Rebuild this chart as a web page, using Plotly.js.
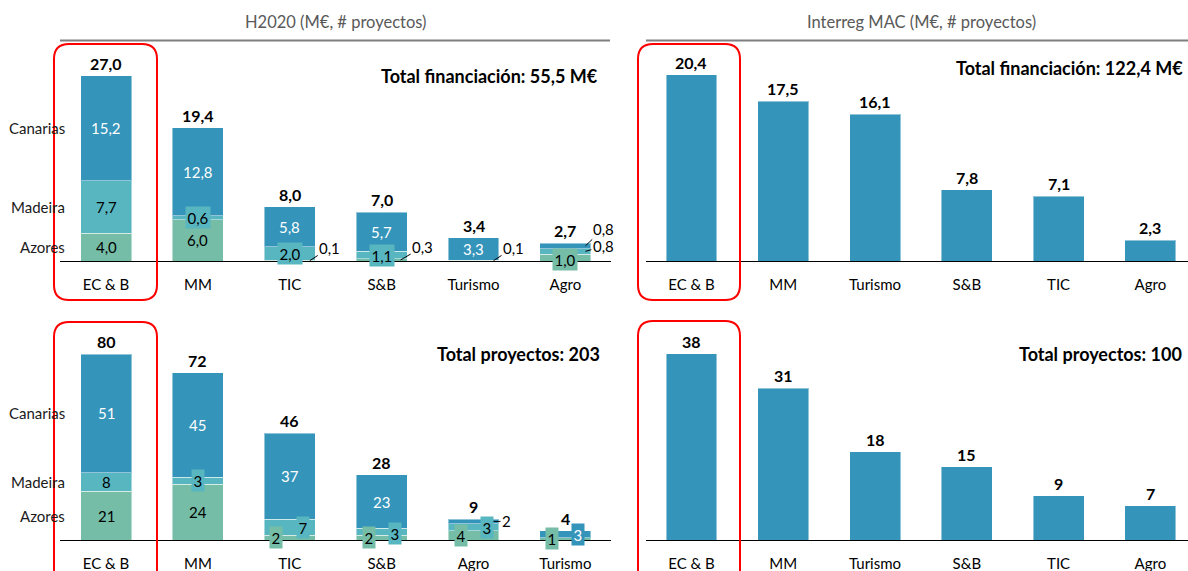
<!DOCTYPE html>
<html><head><meta charset="utf-8">
<script src="https://cdn.plot.ly/plotly-3.0.1.min.js"></script>
<style>html,body{margin:0;padding:0;background:#fff;} #chart{width:1188px;height:571px;}</style>
</head><body><div id="chart"></div>
<script>
// ---------------- DATA ----------------
const regions = ['Azores', 'Madeira', 'Canarias'];

// H2020 – financiación (M€)
const h2020FundCats     = ['EC & B', 'MM', 'TIC', 'S&B', 'Turismo', 'Agro'];
const h2020FundAzores   = [4.0, 6.0, 0.1, 0.3, 0.1, 1.0];
const h2020FundMadeira  = [7.7, 0.6, 2.0, 1.1, 0.0, 0.8];
const h2020FundCanarias = [15.2, 12.8, 5.8, 5.7, 3.3, 0.8];
const h2020FundTotals   = [27.0, 19.4, 8.0, 7.0, 3.4, 2.7];

// H2020 – proyectos (#)
const h2020ProjCats     = ['EC & B', 'MM', 'TIC', 'S&B', 'Agro', 'Turismo'];
const h2020ProjAzores   = [21, 24, 2, 2, 4, 1];
const h2020ProjMadeira  = [8, 3, 7, 3, 3, 0];
const h2020ProjCanarias = [51, 45, 37, 23, 2, 3];
const h2020ProjTotals   = [80, 72, 46, 28, 9, 4];

// Interreg MAC
const macFundCats   = ['EC & B', 'MM', 'Turismo', 'S&B', 'TIC', 'Agro'];
const macFundValues = [20.4, 17.5, 16.1, 7.8, 7.1, 2.3];
const macProjCats   = ['EC & B', 'MM', 'Turismo', 'S&B', 'TIC', 'Agro'];
const macProjValues = [38, 31, 18, 15, 9, 7];

const titleH2020 = 'H2020 (M€, # proyectos)';
const titleMAC   = 'Interreg MAC (M€, # proyectos)';
const totalH2020Fund = 'Total financiación: 55,5 M€';
const totalH2020Proj = 'Total proyectos: 203';
const totalMACFund   = 'Total financiación: 122,4 M€';
const totalMACProj   = 'Total proyectos: 100';

// ---------------- STYLE ----------------
const W = 1188, H = 571;
const px = x => x / W;
const py = y => 1 - y / H;
const FONT = 'Lato, "Open Sans", sans-serif';
const COL = {Azores: '#75bda7', Madeira: '#58b6c0', Canarias: '#3494ba'};
const TXT = {Azores: '#000000', Madeira: '#000000', Canarias: '#ffffff'};
const fmt1 = v => v.toFixed(1).replace('.', ',');
const fmt0 = v => String(Math.round(v));

// label placement tweaks (pixels)
const fundStyles = {
  'MM|Madeira': {box: true},
  'TIC|Azores': {leader: [20, 20, -13]},
  'TIC|Madeira': {box: true},
  'S&B|Azores': {leader: [19, 22, -13]},
  'S&B|Madeira': {box: true},
  'Turismo|Azores': {leader: [20, 20, -13]},
  'Agro|Azores': {box: true, dy: -1.5},
  'Agro|Madeira': {leader: [20, 18, -5]},
  'Agro|Canarias': {leader: [20, 18, -17]}
};
const projStyles = {
  'MM|Madeira': {box: true},
  'TIC|Azores': {box: true, dx: -14},
  'TIC|Madeira': {box: true, dx: 13},
  'S&B|Azores': {box: true, dx: -13},
  'S&B|Madeira': {box: true, dx: 13, dy: -2},
  'Agro|Azores': {box: true, dx: -13},
  'Agro|Madeira': {box: true, dx: 13},
  'Agro|Canarias': {leader: [20, 13, 0]},
  'Turismo|Azores': {box: true, dx: -13},
  'Turismo|Canarias': {box: true, dx: 13}
};

const traces = [];
const ann = [];

function stacked(cats, series, totals, fmt, xa, ya, styles) {
  const base = cats.map(() => 0);
  const mids0 = {};
  regions.forEach(r => {
    traces.push({
      type: 'bar', x: cats, y: series[r], xaxis: xa, yaxis: ya,
      marker: {color: COL[r], line: {color: 'rgba(255,255,255,0.45)', width: 1}},
      hoverinfo: 'skip', showlegend: false
    });
    cats.forEach((c, i) => {
      const v = series[r][i];
      const mid = base[i] + v / 2;
      base[i] += v;
      if (i === 0) mids0[r] = mid;
      if (v <= 0) return;
      const st = styles[c + '|' + r] || {};
      const a = {xref: xa, yref: ya, x: c, y: mid, text: fmt(v),
        font: {family: FONT, size: 15, color: TXT[r]}, showarrow: false};
      if (st.leader) {
        a.xshift = st.leader[0]; a.showarrow = true; a.arrowhead = 0;
        a.arrowwidth = 1; a.arrowcolor = '#000'; a.ax = st.leader[1]; a.ay = st.leader[2];
        a.font.color = '#000'; a.standoff = 0;
      }
      if (st.box) { a.bgcolor = COL[r]; a.borderpad = 1.5; }
      if (st.dx) a.xshift = st.dx;
      if (st.dy) a.yshift = st.dy;
      ann.push(a);
    });
  });
  cats.forEach((c, i) => {
    ann.push({xref: xa, yref: ya, x: c, y: base[i], yanchor: 'bottom', yshift: 1,
      text: '<b>' + fmt(totals[i]) + '</b>', showarrow: false,
      font: {family: FONT, size: 16, color: '#000'}});
  });
  regions.forEach(r => {
    ann.push({xref: 'paper', yref: ya, x: px(67), xanchor: 'right', y: mids0[r],
      text: r, showarrow: false, font: {family: FONT, size: 15, color: '#1a1a1a'}});
  });
}

function simple(cats, vals, fmt, xa, ya) {
  traces.push({
    type: 'bar', x: cats, y: vals, xaxis: xa, yaxis: ya,
    marker: {color: COL.Canarias, line: {color: 'rgba(255,255,255,0.45)', width: 1}},
    hoverinfo: 'skip', showlegend: false
  });
  cats.forEach((c, i) => {
    ann.push({xref: xa, yref: ya, x: c, y: vals[i], yanchor: 'bottom', yshift: 1,
      text: '<b>' + fmt(vals[i]) + '</b>', showarrow: false,
      font: {family: FONT, size: 16, color: '#000'}});
  });
}

stacked(h2020FundCats, {Azores: h2020FundAzores, Madeira: h2020FundMadeira, Canarias: h2020FundCanarias},
  h2020FundTotals, fmt1, 'x', 'y', fundStyles);
simple(macFundCats, macFundValues, fmt1, 'x2', 'y2');
stacked(h2020ProjCats, {Azores: h2020ProjAzores, Madeira: h2020ProjMadeira, Canarias: h2020ProjCanarias},
  h2020ProjTotals, fmt0, 'x3', 'y3', projStyles);
simple(macProjCats, macProjValues, fmt0, 'x4', 'y4');

// titles and totals
const bigFont = {family: FONT, size: 18, color: '#000'};
const titleFont = {family: FONT, size: 16.5, color: '#595959'};
function paperText(x, y, xanchor, text, font) {
  ann.push({xref: 'paper', yref: 'paper', x: px(x), y: py(y), xanchor: xanchor, yanchor: 'middle',
    text: text, showarrow: false, font: font});
}
paperText(335, 22, 'center', titleH2020, titleFont);
paperText(921, 22, 'center', titleMAC, titleFont);
paperText(600, 76, 'right', '<b>' + totalH2020Fund + '</b>', bigFont);
paperText(602, 354, 'right', '<b>' + totalH2020Proj + '</b>', bigFont);
paperText(1185, 68, 'right', '<b>' + totalMACFund + '</b>', bigFont);
paperText(1184, 354, 'right', '<b>' + totalMACProj + '</b>', bigFont);

// shapes: header lines and red highlight boxes
function roundRect(x0, y0, x1, y1, r) {
  const X = v => px(v).toFixed(5), Y = v => py(v).toFixed(5);
  return 'M' + X(x0 + r) + ',' + Y(y0) + ' L' + X(x1 - r) + ',' + Y(y0) +
    ' Q' + X(x1) + ',' + Y(y0) + ' ' + X(x1) + ',' + Y(y0 + r) +
    ' L' + X(x1) + ',' + Y(y1 - r) +
    ' Q' + X(x1) + ',' + Y(y1) + ' ' + X(x1 - r) + ',' + Y(y1) +
    ' L' + X(x0 + r) + ',' + Y(y1) +
    ' Q' + X(x0) + ',' + Y(y1) + ' ' + X(x0) + ',' + Y(y1 - r) +
    ' L' + X(x0) + ',' + Y(y0 + r) +
    ' Q' + X(x0) + ',' + Y(y0) + ' ' + X(x0 + r) + ',' + Y(y0) + ' Z';
}
const redLine = {color: '#ff0000', width: 2};
const shapes = [
  {type: 'line', xref: 'paper', yref: 'paper', x0: px(60), x1: px(610), y0: py(40.5), y1: py(40.5), line: {color: '#7f7f7f', width: 2}},
  {type: 'line', xref: 'paper', yref: 'paper', x0: px(646), x1: px(1188), y0: py(40.5), y1: py(40.5), line: {color: '#7f7f7f', width: 2}},
  {type: 'path', xref: 'paper', yref: 'paper', path: roundRect(54, 44, 157, 300, 15), line: redLine},
  {type: 'path', xref: 'paper', yref: 'paper', path: roundRect(54, 322, 157, 620, 15), line: redLine},
  {type: 'path', xref: 'paper', yref: 'paper', path: roundRect(638, 44, 740, 300, 15), line: redLine},
  {type: 'path', xref: 'paper', yref: 'paper', path: roundRect(638, 321, 740, 620, 15), line: redLine}
];

function xax(domain, anchor, hi) {
  return {domain: domain, anchor: anchor, type: 'category', range: [-0.5, hi],
    showline: true, linecolor: '#000', linewidth: 1.3, ticks: 'outside', ticklen: 10,
    tickcolor: 'rgba(0,0,0,0)', tickfont: {family: FONT, size: 15, color: '#000'},
    showgrid: false, zeroline: false, fixedrange: true};
}
function yax(domain, anchor, hi) {
  return {domain: domain, anchor: anchor, range: [0, hi], showticklabels: false,
    showgrid: false, zeroline: false, showline: false, ticks: '', fixedrange: true};
}
const topDom = [py(261), py(40)];
const botDom = [py(540), py(320)];
const leftDom = [px(60.1), px(611.3)];
const rightDom = [px(645.6), 1];

const layout = {
  width: W, height: H, margin: {l: 0, r: 0, t: 0, b: 0},
  paper_bgcolor: '#ffffff', plot_bgcolor: 'rgba(0,0,0,0)',
  barmode: 'stack', bargap: 0.445, showlegend: false,
  font: {family: FONT, size: 15, color: '#000'},
  xaxis: xax(leftDom, 'y', 5.5),  yaxis: yax(topDom, 'x', 221 / 6.88),
  xaxis2: xax(rightDom, 'y2', 5.41), yaxis2: yax(topDom, 'x2', 221 / 9.118),
  xaxis3: xax(leftDom, 'y3', 5.5), yaxis3: yax(botDom, 'x3', 220 / 2.325),
  xaxis4: xax(rightDom, 'y4', 5.41), yaxis4: yax(botDom, 'x4', 220 / 4.895),
  annotations: ann, shapes: shapes
};
Plotly.newPlot('chart', traces, layout, {displayModeBar: false, staticPlot: true});
</script></body></html>
